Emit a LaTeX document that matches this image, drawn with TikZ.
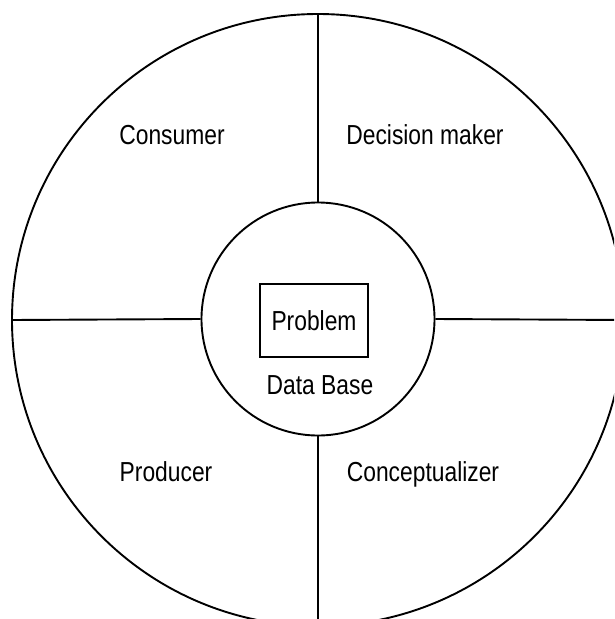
\documentclass[tikz,border=0pt]{standalone}
\usepackage{fontspec}
\setmainfont[FakeStretch=0.83]{Liberation Sans}
\begin{document}
\begin{tikzpicture}[x=1pt,y=-1pt,
  ring/.style={circle,draw,line width=1.9pt,inner sep=0pt},
  divider/.style={line width=1.9pt},
  role/.style={font=\fontsize{27.5}{30}\selectfont,inner sep=0pt},
  probbox/.style={draw,line width=1.6pt,minimum width=108pt,minimum height=73pt,inner sep=0pt,font=\fontsize{27.5}{30}\selectfont}]
  \useasboundingbox (0,0) rectangle (614,619);
  \clip (0,0) rectangle (614,619);
  % rings
  \node[ring,minimum size=612pt] (outer) at (318,320) {};
  \node[ring,minimum size=233pt] (inner) at (318,319) {};
  % dividers between the four roles
  \draw[divider] (inner.north) -- (outer.north);
  \draw[divider] (inner.south) -- (outer.south);
  \draw[divider] (inner.west) -- (outer.west);
  \draw[divider] (inner.east) -- (outer.east);
  % roles
  \node[role] (consumer) at (172,135) {Consumer};
  \node[role] (decision) at (425,135) {Decision maker};
  \node[role] (producer) at (166,472) {Producer};
  \node[role] (concept) at (423,474) {Conceptualizer};
  % centre
  \node[probbox] (problem) at (314,320.5) {Problem};
  \node[role] (database) at (320,385) {Data Base};
\end{tikzpicture}
\end{document}
